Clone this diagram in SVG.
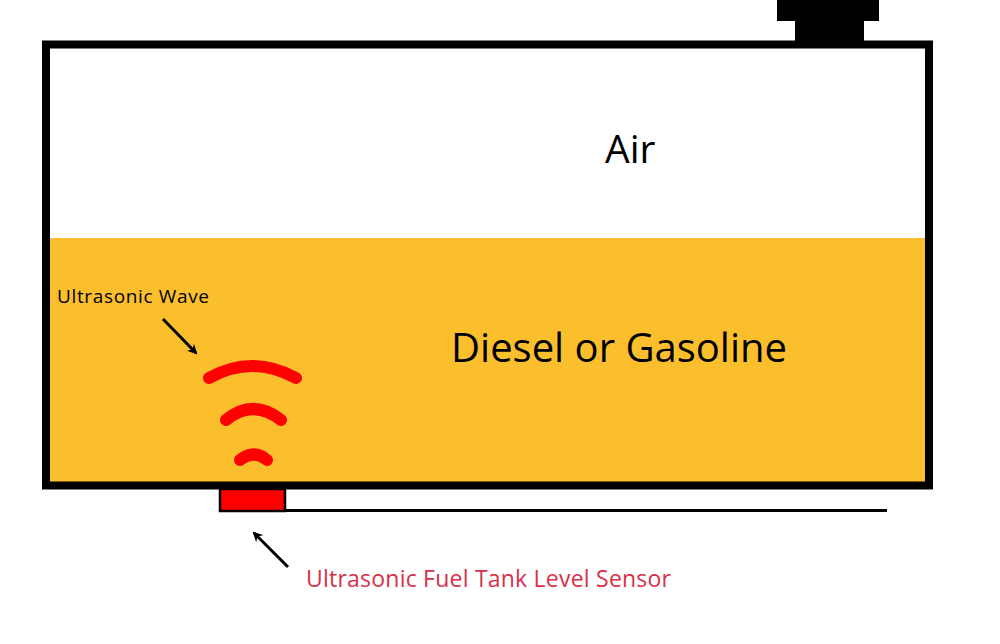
<svg xmlns="http://www.w3.org/2000/svg" width="1000" height="644" viewBox="0 0 1000 644">
<defs>
<style>
.t{font-family:"Open Sans","Noto Sans","Liberation Sans",sans-serif;fill:#000}
.wave{fill:none;stroke:#ff0000;stroke-width:12;stroke-linecap:round}
.arr{stroke:#000;stroke-width:3;fill:none}
</style>
<marker id="ah" markerWidth="10" markerHeight="10" refX="8" refY="5" orient="auto" markerUnits="userSpaceOnUse" viewBox="0 0 10 10">
<path d="M0,0 L10,5 L0,10 L3,5 Z" fill="#000"/>
</marker>
</defs>
<rect width="1000" height="644" fill="#fff"/>
<g id="tank">
<rect x="46" y="238" width="883" height="247.5" fill="#fbbf2d"/>
<rect x="46" y="44.5" width="883" height="441" fill="none" stroke="#000" stroke-width="8"/>
</g>
<g id="cap">
<rect x="777" y="0" width="102" height="21" fill="#000"/>
<rect x="795" y="20" width="69" height="22" fill="#000"/>
</g>
<g id="sensor">
<rect x="220" y="489" width="65" height="22" fill="#ff0000" stroke="#000" stroke-width="2.5"/>
<line x1="285" y1="510.5" x2="887" y2="510.5" stroke="#000" stroke-width="3"/>
</g>
<g id="waves">
<path class="wave" d="M209,378 Q252,354 296,378"/>
<path class="wave" d="M226,420 Q253,398 281,420"/>
<path class="wave" d="M240,460 Q254,449 267,460"/>
</g>
<g id="connectors">
<line class="arr" x1="163" y1="319" x2="196" y2="353" marker-end="url(#ah)"/>
<line class="arr" x1="288" y1="567" x2="254" y2="533" marker-end="url(#ah)"/>
</g>
<g id="labels">
<text class="t" x="605" y="163" font-size="39">Air</text>
<text class="t" x="451" y="362" font-size="40" textLength="336">Diesel or Gasoline</text>
<text class="t" x="57" y="303" font-size="19" textLength="152">Ultrasonic Wave</text>
<text class="t" x="306" y="587" font-size="23" textLength="365" style="fill:#d7304b">Ultrasonic Fuel Tank Level Sensor</text>
</g>
</svg>
